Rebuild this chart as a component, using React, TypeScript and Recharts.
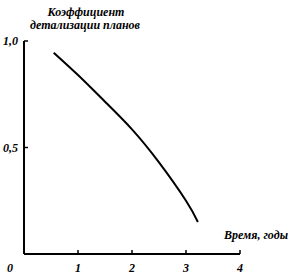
import { LineChart, Line, XAxis, YAxis } from "recharts";

const years = [0.55, 1.0, 1.5, 2.0, 2.5, 3.0, 3.22];
const coefficient = [0.945, 0.84, 0.715, 0.585, 0.43, 0.25, 0.15];
const xTicks = [0, 1, 2, 3, 4];
const yTicks = [0.5, 1.0];
const yTickLabels = ["0,5", "1,0"];

const data = years.map((t, i) => ({ t, k: coefficient[i] }));

const font = "'Liberation Serif', 'DejaVu Serif', serif";

function XTick(props: any) {
  const { x, y, payload } = props;
  const v = payload.value;
  return (
    <g>
      {v !== 0 && <line x1={x} x2={x} y1={y} y2={y - 4} stroke="#000" strokeWidth={1.5} />}
      <text
        x={v === 0 ? x - 14 : x}
        y={y + 18}
        textAnchor="middle"
        fontFamily={font}
        fontStyle="italic"
        fontWeight="bold"
        fontSize={12}
        fill="#000"
      >
        {v}
      </text>
    </g>
  );
}

function YTick(props: any) {
  const { x, y, payload } = props;
  const idx = yTicks.indexOf(payload.value);
  return (
    <g>
      <line x1={x} x2={x + 4} y1={y} y2={y} stroke="#000" strokeWidth={1.5} />
      <text
        x={x - 6}
        y={y + 4}
        textAnchor="end"
        fontFamily={font}
        fontStyle="italic"
        fontWeight="bold"
        fontSize={12}
        fill="#000"
      >
        {yTickLabels[idx]}
      </text>
    </g>
  );
}

export default function App() {
  return (
    <div style={{ position: "absolute", left: 0, top: 0, background: "#fff" }}>
      <LineChart width={296} height={278} data={data} margin={{ top: 41, right: 56, bottom: 0, left: 0 }}>
        <XAxis
          dataKey="t"
          type="number"
          domain={[0, 4]}
          ticks={xTicks}
          height={24}
          tickSize={0}
          tickMargin={0}
          tick={<XTick />}
          axisLine={{ stroke: "#000", strokeWidth: 2 }}
          tickLine={false}
        />
        <YAxis
          type="number"
          domain={[0, 1]}
          ticks={yTicks}
          width={24}
          tickSize={0}
          tickMargin={0}
          tick={<YTick />}
          axisLine={{ stroke: "#000", strokeWidth: 2 }}
          tickLine={false}
        />
        <Line
          dataKey="k"
          type="natural"
          stroke="#000"
          strokeWidth={2}
          dot={false}
          isAnimationActive={false}
        />
        <text x={86} y={16} textAnchor="middle" fontFamily={font} fontStyle="italic" fontWeight="bold" fontSize={12}>
          Коэффициент
        </text>
        <text x={85} y={29} textAnchor="middle" fontFamily={font} fontStyle="italic" fontWeight="bold" fontSize={12}>
          детализации планов
        </text>
        <text x={256} y={239} textAnchor="middle" fontFamily={font} fontStyle="italic" fontWeight="bold" fontSize={12}>
          Время, годы
        </text>
      </LineChart>
    </div>
  );
}
